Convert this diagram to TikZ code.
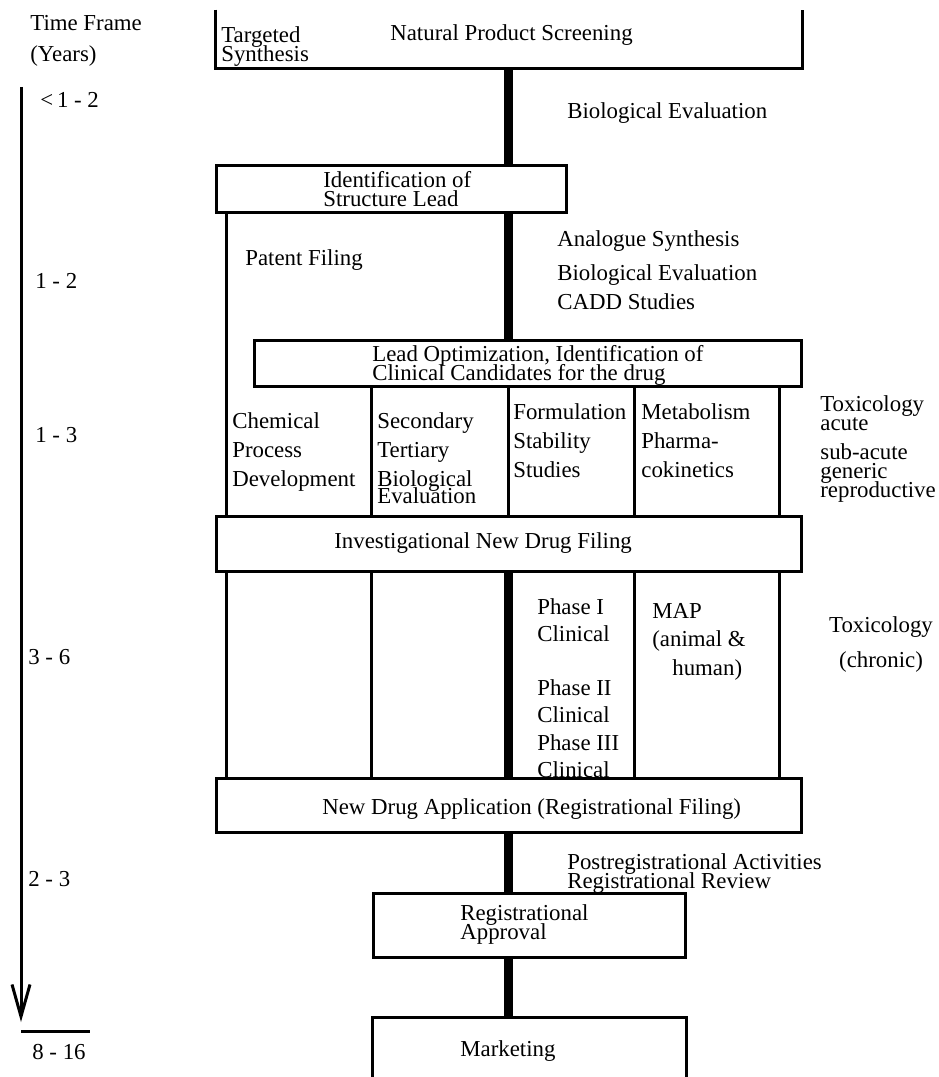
\documentclass[tikz,border=0pt]{standalone}
\usepackage{fontspec}
\setmainfont{Liberation Serif}
\usetikzlibrary{arrows.meta}
\lineskiplimit=-20pt

\tikzset{
	box/.style={draw, line width=0.06cm, inner sep=0pt},
	openbox/.style={inner sep=0pt},
	rule/.style={line width=0.06cm},
	spine/.style={line width=0.18cm},
	lbl/.style={anchor=north west, inner sep=0pt, align=left, font=\fontsize{13}{16.5}\selectfont},
	tight/.style={lbl, font=\fontsize{13}{10.8}\selectfont},
}

\begin{document}
\begin{tikzpicture}[x=0.02cm, y=-0.02cm]
	\useasboundingbox (0,0) rectangle (938,1077);

	\coordinate (col1) at (226,0);
	\coordinate (col2) at (371,0);
	\coordinate (col3) at (508,0);
	\coordinate (col4) at (634,0);
	\coordinate (col5) at (779,0);

	\node[openbox, minimum width=11.72cm, minimum height=1.16cm]	(screen)	at (509,39)		{};
	\node[box, minimum width=7.02cm, minimum height=0.96cm]		(ident)		at (391.5,189)	{};
	\node[box, minimum width=10.96cm, minimum height=0.94cm]	(leadopt)	at (528,363.5)	{};
	\node[box, minimum width=11.72cm, minimum height=1.12cm]	(ind)		at (509,544)	{};
	\node[box, minimum width=11.72cm, minimum height=1.08cm]	(nda)		at (509,805)	{};
	\node[box, minimum width=6.26cm, minimum height=1.28cm]		(approval)	at (529.5,925)	{};
	\node[openbox, minimum width=6.26cm, minimum height=1.40cm]	(market)	at (529.5,1053)	{};

	\draw[rule] (screen.north west) |- (screen.south east) -- (screen.north east);
	\draw[rule] (market.south west) |- (market.north east) -- (market.south east);

	\draw[spine] (screen.south -| col3) -- (ident.north -| col3);
	\draw[spine] (ident.south -| col3) -- (leadopt.north -| col3);
	\draw[spine] (ind.south -| col3) -- (nda.north -| col3);
	\draw[spine] (nda.south -| col3) -- (approval.north -| col3);
	\draw[spine] (approval.south -| col3) -- (market.north -| col3);

	\draw[rule] (ident.south -| col1) -- (ind.north -| col1);
	\foreach \c in {col2,col3,col4,col5}
		\draw[rule] (leadopt.south -| \c) -- (ind.north -| \c);
	\foreach \c in {col1,col2,col4,col5}
		\draw[rule] (ind.south -| \c) -- (nda.north -| \c);

	\coordinate (axtop) at (21,87);
	\coordinate (axend) at (21,1022);
	\coordinate (barl) at (21,1031);
	\coordinate (barr) at (90,1031);
	\draw[rule, -{Straight Barb[length=0.64cm, width=0.36cm]}] (axtop) -- (axend);
	\draw[rule] (barl) -- (barr);

	\node[lbl]	(timeframe)	at (30,15)		{Time Frame\\[1pt](Years)};
	\node[lbl]	(span1)		at (40,92)		{<\,1 - 2};
	\node[lbl]	(span2)		at (35,273)		{1 - 2};
	\node[lbl]	(span3)		at (35,427)		{1 - 3};
	\node[lbl]	(span4)		at (28,649)		{3 - 6};
	\node[lbl]	(span5)		at (28,871)		{2 - 3};
	\node[lbl]	(span6)		at (32,1044)	{8 - 16};

	\node[tight]	(targeted)	at (221,26)		{Targeted\\Synthesis};
	\node[lbl]		(natural)	at (390,24)		{Natural Product Screening};
	\node[lbl]		(bioeval)	at (567,102)	{Biological Evaluation};
	\node[tight]	(identtxt)	at (323,171)	{Identification of\\Structure Lead};
	\node[lbl]		(patent)	at (245,249)	{Patent Filing};
	\node[lbl]		(analogue)	at (557,230)	{Analogue Synthesis\\[3pt]Biological Evaluation\\CADD Studies};
	\node[tight]	(leadtxt)	at (372,345)	{Lead Optimization, Identification of\\Clinical Candidates for the drug};

	\node[lbl]		(chemproc)	at (232,412)	{Chemical\\Process\\Development};
	\node[lbl]		(secondary)	at (377,412)	{Secondary\\Tertiary\\Biological\\[-6.6pt]Evaluation};
	\node[lbl]		(formul)	at (513,403)	{Formulation\\Stability\\Studies};
	\node[lbl]		(metab)		at (641,403)	{Metabolism\\Pharma-\\cokinetics};
	\node[tight]	(toxacute)	at (820,395)	{Toxicology\\acute\\[6pt]sub-acute\\generic\\reproductive};

	\node[lbl]		(indtxt)	at (334,532)	{Investigational New Drug Filing};
	\node[lbl, font=\fontsize{13}{15.6}\selectfont]	(phases)	at (537,598)	{Phase I\\Clinical\\[15pt]Phase II\\Clinical\\Phase III\\Clinical};
	\node[lbl, font=\fontsize{13}{16.2}\selectfont]	(map)		at (652,603)	{MAP\\(animal \&\\\hspace*{0.4cm}human)};
	\node[lbl, anchor=north, align=center, font=\fontsize{13}{19.9}\selectfont]	(toxchron)	at (881,616)	{Toxicology\\(chronic)};

	\node[lbl]		(ndatxt)	at (322,798)	{New Drug Application (Registrational Filing)};
	\node[tight]	(postreg)	at (567,853)	{Postregistrational Activities\\Registrational Review};
	\node[tight]	(apprtxt)	at (460,904)	{Registrational\\Approval};
	\node[lbl]		(markettxt)	at (460,1040)	{Marketing};
\end{tikzpicture}
\end{document}
